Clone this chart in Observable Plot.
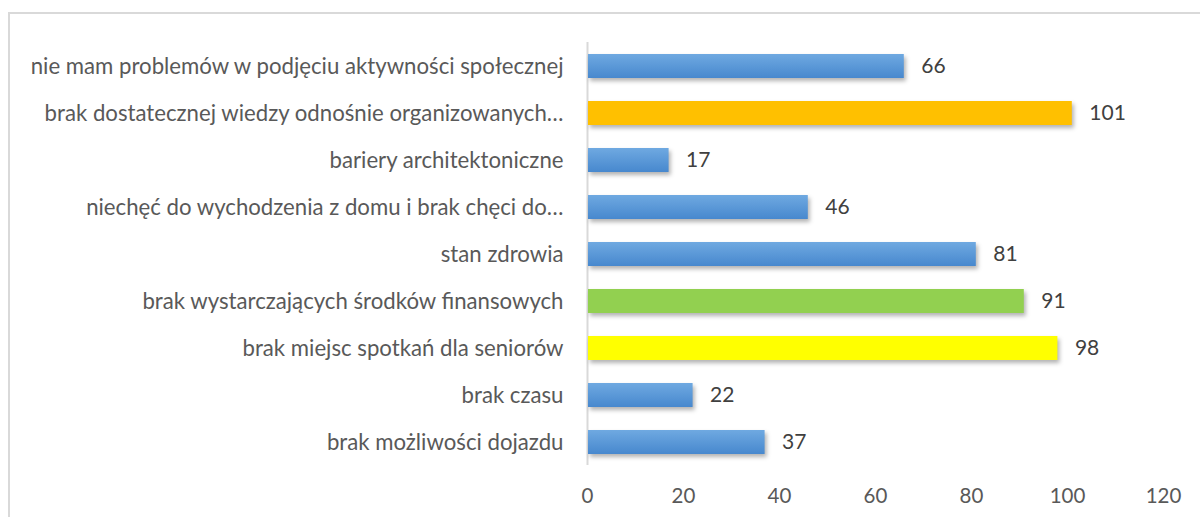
<!DOCTYPE html>
<html>
<head>
<meta charset="utf-8">
<script src="https://cdn.jsdelivr.net/npm/d3@7"></script>
<script src="https://cdn.jsdelivr.net/npm/@observablehq/plot@0.6"></script>
<style>
  html, body { margin: 0; padding: 0; background: #fff; }
  #wrap { position: relative; width: 1200px; height: 517px; overflow: hidden; }
  #frame { position: absolute; left: 8px; top: 12px; width: 1300px; height: 600px;
           border-left: 2px solid #d9d9d9; border-top: 2px solid #d9d9d9; box-sizing: border-box; }
  #chart { position: absolute; left: 0; top: 0; }
</style>
</head>
<body>
<div id="wrap"><div id="frame"></div><div id="chart"></div></div>
<script>
const categories = [
  "nie mam problemów w podjęciu aktywności społecznej",
  "brak dostatecznej wiedzy odnośnie organizowanych…",
  "bariery architektoniczne",
  "niechęć do wychodzenia z domu i brak chęci do…",
  "stan zdrowia",
  "brak wystarczających środków finansowych",
  "brak miejsc spotkań dla seniorów",
  "brak czasu",
  "brak możliwości dojazdu"
];
const values = [66, 101, 17, 46, 81, 91, 98, 22, 37];
const xTicks = [0, 20, 40, 60, 80, 100, 120];

const highlight = {
  "brak dostatecznej wiedzy odnośnie organizowanych…": "#FFC000",
  "brak wystarczających środków finansowych": "#92D050",
  "brak miejsc spotkań dla seniorów": "#FFFF00"
};

const data = categories.map((c, i) => ({label: c, value: values[i]}));

const FONT = "Lato, 'Open Sans', sans-serif";

const chart = Plot.plot({
  width: 1200,
  height: 517,
  marginLeft: 587,
  marginRight: 37,
  marginTop: 42,
  marginBottom: 52,
  style: {fontFamily: FONT, fontSize: "21px", color: "#595959", background: "transparent"},
  x: {domain: [0, 120], ticks: xTicks, tickSize: 0, label: null},
  y: {domain: categories, paddingInner: 0.5, paddingOuter: 0.25, tickSize: 0, label: null},
  color: {type: "identity"},
  marks: [
    () => {
      const svg = d3.create("svg:defs");
      const g = svg.append("linearGradient").attr("id", "blueGrad")
        .attr("x1", 0).attr("y1", 0).attr("x2", 0).attr("y2", 1);
      g.append("stop").attr("offset", "0%").attr("stop-color", "#6FA9E1");
      g.append("stop").attr("offset", "100%").attr("stop-color", "#4788CE");
      return svg.node();
    },
    Plot.axisX({ticks: xTicks, tickSize: 0, tickPadding: 23, fill: "#595959", fontSize: 20.5}),
    Plot.axisY({tickSize: 0, tickPadding: 24, fill: "#595959", fontSize: 22.2}),
    Plot.ruleX([0], {stroke: "#d9d9d9", strokeWidth: 2}),
    Plot.barX(data, {
      y: "label", x: "value",
      fill: d => highlight[d.label] ?? "url(#blueGrad)",
      className: "bars"
    }),
    Plot.text(data, {
      y: "label", x: "value", text: d => String(d.value),
      textAnchor: "start", dx: 17, fill: "#404040", fontSize: 21
    })
  ]
});

d3.select(chart).selectAll(".bars rect")
  .attr("x", function() { return +this.getAttribute("x") + 1; })
  .attr("width", function() { return Math.max(0, +this.getAttribute("width") - 1); })
  .style("filter", "drop-shadow(2px 3px 2px rgba(0,0,0,0.3))");

document.getElementById("chart").appendChild(chart);
</script>
</body>
</html>
